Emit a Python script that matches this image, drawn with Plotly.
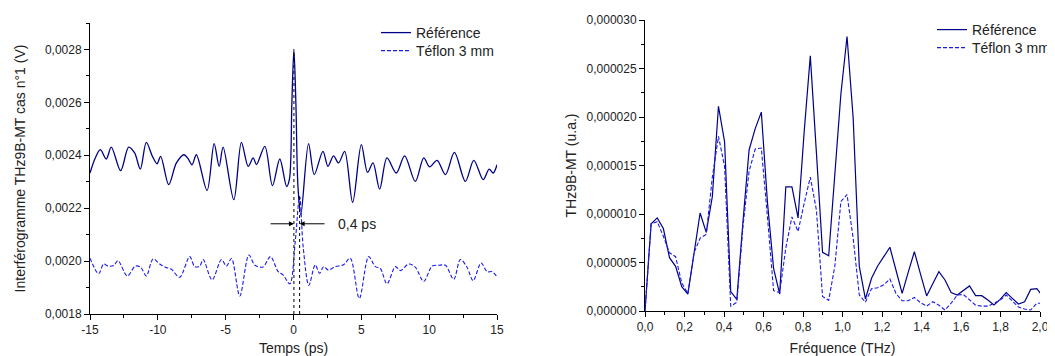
import plotly.graph_objects as go

# ---------------- Left panel : interferograms (time domain) ----------------
temps_ref = [-15.0, -14.61, -14.24, -13.80, -13.43, -12.74, -12.15, -11.71, -11.29, -10.85,
             -10.40, -10.06, -9.79, -9.20, -8.63, -8.07, -7.77, -7.48, -7.16, -6.37,
             -5.85, -5.48, -5.19, -4.40, -3.84, -3.34, -2.97, -2.73, -2.11, -1.55,
             -1.01, -0.51, -0.30, -0.12, 0.03, 0.18, 0.33, 0.54, 1.11, 1.53,
             2.17, 2.54, 2.95, 3.32, 3.77, 4.36, 5.00, 5.46, 5.86, 6.35,
             6.89, 7.58, 8.19, 8.98, 9.60, 10.04, 10.58, 11.20, 11.86, 12.67,
             13.29, 13.98, 14.42, 14.72, 15.0]
signal_ref = [0.002333, 0.002390, 0.002421, 0.002386, 0.002431, 0.002342, 0.002431, 0.002409, 0.002348, 0.002449,
              0.002396, 0.002368, 0.002396, 0.002289, 0.002371, 0.002402, 0.002387, 0.002364, 0.002402, 0.002267,
              0.002444, 0.002358, 0.002431, 0.002232, 0.002449, 0.002358, 0.002390, 0.002365, 0.002434, 0.002285,
              0.002386, 0.002282, 0.002310, 0.002600, 0.002800, 0.002590, 0.002280, 0.002175, 0.002444, 0.002327,
              0.002415, 0.002358, 0.002398, 0.002371, 0.002415, 0.002222, 0.002440, 0.002335, 0.002371, 0.002272,
              0.002390, 0.002333, 0.002398, 0.002301, 0.002390, 0.002356, 0.002381, 0.002327, 0.002411, 0.002301,
              0.002381, 0.002308, 0.002348, 0.002333, 0.002364]

temps_tef = [-15.0, -14.36, -14.00, -13.67, -13.23, -12.94, -12.25, -11.66, -11.27, -10.85,
             -10.35, -9.86, -9.45, -9.00, -8.39, -7.65, -7.28, -6.91, -6.66, -6.00,
             -5.31, -4.94, -4.57, -3.96, -3.29, -2.84, -2.24, -1.70, -1.13, -0.76,
             -0.27, 0.12, 0.45, 0.72, 1.13, 1.60, 1.92, 2.22, 2.58, 3.08,
             3.69, 4.18, 4.85, 5.54, 6.03, 6.40, 6.89, 7.51, 7.88, 8.49,
             8.98, 9.60, 10.21, 10.70, 11.20, 11.81, 12.30, 12.79, 13.24, 13.83,
             14.27, 14.64, 15.0]
signal_tef = [0.002011, 0.001952, 0.001989, 0.001981, 0.001984, 0.002002, 0.001944, 0.001981, 0.001977, 0.001944,
              0.002008, 0.001989, 0.001977, 0.001969, 0.001939, 0.002017, 0.001979, 0.001981, 0.002006, 0.001929,
              0.002006, 0.001981, 0.002010, 0.001868, 0.002023, 0.001984, 0.001978, 0.002017, 0.001960, 0.001947,
              0.001914, 0.002070, 0.002245, 0.002050, 0.001908, 0.001986, 0.001954, 0.001979, 0.001966, 0.001979,
              0.001986, 0.002011, 0.001859, 0.002017, 0.001979, 0.001972, 0.001914, 0.001979, 0.001964, 0.001989,
              0.001977, 0.001923, 0.001981, 0.001984, 0.001984, 0.001931, 0.002006, 0.001977, 0.001926, 0.001993,
              0.001960, 0.001960, 0.001941]

# ---------------- Right panel : spectra (frequency domain) ----------------
freq = [0.000, 0.031, 0.062, 0.093, 0.124, 0.155, 0.186, 0.217, 0.248, 0.279,
        0.310, 0.341, 0.372, 0.403, 0.434, 0.465, 0.496, 0.527, 0.558, 0.589,
        0.620, 0.651, 0.682, 0.713, 0.744, 0.775, 0.806, 0.837, 0.868, 0.899,
        0.930, 0.961, 0.992, 1.023, 1.054, 1.085, 1.116, 1.147, 1.178, 1.209,
        1.240, 1.271, 1.302, 1.333, 1.364, 1.395, 1.426, 1.457, 1.488, 1.519,
        1.550, 1.581, 1.612, 1.643, 1.674, 1.705, 1.736, 1.767, 1.798, 1.829,
        1.860, 1.891, 1.922, 1.953, 1.984, 2.015]
spec_ref = [0.0, 0.90e-5, 0.96e-5, 0.85e-5, 0.55e-5, 0.46e-5, 0.25e-5, 0.175e-5, 0.59e-5, 1.01e-5,
            0.81e-5, 1.18e-5, 2.11e-5, 1.745e-5, 0.20e-5, 0.12e-5, 0.92e-5, 1.66e-5, 1.88e-5, 2.05e-5,
            1.12e-5, 0.44e-5, 0.175e-5, 1.28e-5, 1.28e-5, 0.96e-5, 1.85e-5, 2.63e-5, 1.63e-5, 0.605e-5,
            0.57e-5, 1.45e-5, 2.24e-5, 2.83e-5, 1.99e-5, 0.46e-5, 0.124e-5, 0.337e-5, 0.464e-5, 0.56e-5,
            0.657e-5, 0.42e-5, 0.182e-5, 0.40e-5, 0.612e-5, 0.38e-5, 0.155e-5, 0.28e-5, 0.405e-5, 0.32e-5,
            0.19e-5, 0.165e-5, 0.21e-5, 0.258e-5, 0.158e-5, 0.158e-5, 0.113e-5, 0.062e-5, 0.12e-5, 0.19e-5,
            0.13e-5, 0.072e-5, 0.096e-5, 0.223e-5, 0.23e-5, 0.15e-5]
spec_tef = [0.0, 0.90e-5, 0.92e-5, 0.77e-5, 0.60e-5, 0.56e-5, 0.29e-5, 0.18e-5, 0.60e-5, 0.75e-5,
            0.79e-5, 1.38e-5, 1.80e-5, 1.49e-5, 0.05e-5, 0.09e-5, 0.87e-5, 1.44e-5, 1.67e-5, 1.68e-5,
            0.97e-5, 0.21e-5, 0.19e-5, 0.65e-5, 0.97e-5, 0.82e-5, 1.11e-5, 1.38e-5, 1.04e-5, 0.15e-5,
            0.11e-5, 0.46e-5, 1.13e-5, 1.20e-5, 0.75e-5, 0.165e-5, 0.09e-5, 0.23e-5, 0.24e-5, 0.27e-5,
            0.33e-5, 0.18e-5, 0.106e-5, 0.106e-5, 0.14e-5, 0.086e-5, 0.05e-5, 0.096e-5, 0.06e-5, 0.01e-5,
            0.08e-5, 0.165e-5, 0.17e-5, 0.11e-5, 0.06e-5, 0.05e-5, 0.05e-5, 0.08e-5, 0.11e-5, 0.165e-5,
            0.106e-5, 0.04e-5, 0.02e-5, 0.01e-5, 0.08e-5, 0.08e-5]

left_xticks = [-15, -10, -5, 0, 5, 10, 15]
left_xticktext = ["-15", "-10", "-5", "0", "5", "10", "15"]
shift_label = "0,4 ps"

FONT = "Arial, Liberation Sans, sans-serif"
C_REF = "#000088"
C_TEF = "#1a1aee"
W, H = 1047, 348   # page has an 8 px body margin


def px_x(p):
    return (p - 8) / W


def px_y(p):
    return 1 - (p - 8) / H


fig = go.Figure()

fig.add_trace(go.Scatter(x=temps_ref, y=signal_ref, mode="lines", name="Référence",
                         line=dict(color=C_REF, width=1.3, shape="spline", smoothing=0.9),
                         xaxis="x", yaxis="y", legend="legend"))
fig.add_trace(go.Scatter(x=temps_tef, y=signal_tef, mode="lines", name="Téflon 3 mm",
                         line=dict(color=C_TEF, width=1.1, dash="4px,2px", shape="spline", smoothing=0.9),
                         xaxis="x", yaxis="y", legend="legend3"))

# dotted vertical lines at the two main peaks
i_ref = signal_ref.index(max(signal_ref))
i_tef = signal_tef.index(max(signal_tef))
tp_ref, vp_ref = temps_ref[i_ref], signal_ref[i_ref]
tp_tef, vp_tef = temps_tef[i_tef], signal_tef[i_tef]
ymin_left = 0.0018
for tp, vp in [(tp_ref, vp_ref), (tp_tef, vp_tef)]:
    fig.add_trace(go.Scatter(x=[tp, tp], y=[ymin_left, vp], mode="lines", showlegend=False,
                             line=dict(color="black", width=1, dash="dot"),
                             xaxis="x", yaxis="y", hoverinfo="skip"))

fig.add_trace(go.Scatter(x=freq, y=spec_ref, mode="lines", name="Référence",
                         line=dict(color=C_REF, width=1.2),
                         xaxis="x2", yaxis="y2", legend="legend2"))
fig.add_trace(go.Scatter(x=freq, y=spec_tef, mode="lines", name="Téflon 3 mm",
                         line=dict(color=C_TEF, width=1.1, dash="4px,2px"),
                         xaxis="x2", yaxis="y2", legend="legend4"))

arrow_y = 0.002141
fig.add_annotation(x=tp_ref, y=arrow_y, ax=-1.8, ay=arrow_y, xref="x", yref="y", axref="x", ayref="y",
                   text="", showarrow=True, arrowhead=2, arrowsize=1, arrowwidth=1, arrowcolor="black")
fig.add_annotation(x=tp_tef, y=arrow_y, ax=2.4, ay=arrow_y, xref="x", yref="y", axref="x", ayref="y",
                   text="", showarrow=True, arrowhead=2, arrowsize=1, arrowwidth=1, arrowcolor="black")
fig.add_annotation(x=3.1, y=arrow_y, xref="x", yref="y", text=shift_label, showarrow=False,
                   xanchor="left", yanchor="middle", font=dict(family=FONT, size=14, color="#222"))

axis_common = dict(showline=True, linecolor="black", linewidth=1, ticks="outside", ticklen=5,
                   tickwidth=1, tickcolor="black", showgrid=False, zeroline=False, mirror=False,
                   tickfont=dict(family=FONT, size=12, color="#222"), automargin=False)

title_font = dict(family=FONT, size=14, color="#222")
leg_common = dict(xanchor="left", yanchor="top", bgcolor="rgba(0,0,0,0)",
                  font=dict(family=FONT, size=14, color="#222"), itemwidth=30)

fig.update_layout(
    width=W, height=H,
    margin=dict(l=0, r=0, t=0, b=0),
    paper_bgcolor="white", plot_bgcolor="white",
    separators=", ",
    font=dict(family=FONT, size=12, color="#222"),
    xaxis=dict(domain=[px_x(90), px_x(497)], range=[-15, 15], anchor="y",
               tickmode="array", tickvals=left_xticks, ticktext=left_xticktext,
               minor=dict(ticks="outside", ticklen=3, tickcolor="black", dtick=2.5, tick0=-15),
               title=dict(text="Temps (ps)", font=title_font, standoff=9),
               **axis_common),
    yaxis=dict(domain=[px_y(314), px_y(23)], range=[0.0018, 0.0029], anchor="x",
               tick0=0.0018, dtick=0.0002, tickformat=".4f",
               minor=dict(ticks="outside", ticklen=3, tickcolor="black", dtick=0.0001, tick0=0.0018),
               title=dict(text="Interférogramme THz9B-MT cas n°1 (V)", font=title_font, standoff=15),
               **axis_common),
    xaxis2=dict(domain=[px_x(645), px_x(1040)], range=[0, 2.0], anchor="y2",
                tick0=0, dtick=0.2, tickformat=".1f",
                minor=dict(ticks="outside", ticklen=3, tickcolor="black", dtick=0.1, tick0=0),
                title=dict(text="Fréquence (THz)", font=title_font, standoff=9),
                **axis_common),
    yaxis2=dict(domain=[px_y(311), px_y(20)], range=[0, 0.00003], anchor="x2",
                tick0=0, dtick=0.000005, tickformat=".6f",
                minor=dict(ticks="outside", ticklen=3, tickcolor="black", dtick=0.0000025, tick0=0),
                title=dict(text="THz9B-MT (u.a.)", font=title_font, standoff=6),
                **axis_common),
    legend=dict(x=px_x(376), y=px_y(33 - 16), **leg_common),
    legend3=dict(x=px_x(376), y=px_y(51 - 16), **leg_common),
    legend2=dict(x=px_x(932), y=px_y(30 - 16), **leg_common),
    legend4=dict(x=px_x(932), y=px_y(48 - 16), **leg_common),
    showlegend=True,
)

fig.write_html("out.html")
